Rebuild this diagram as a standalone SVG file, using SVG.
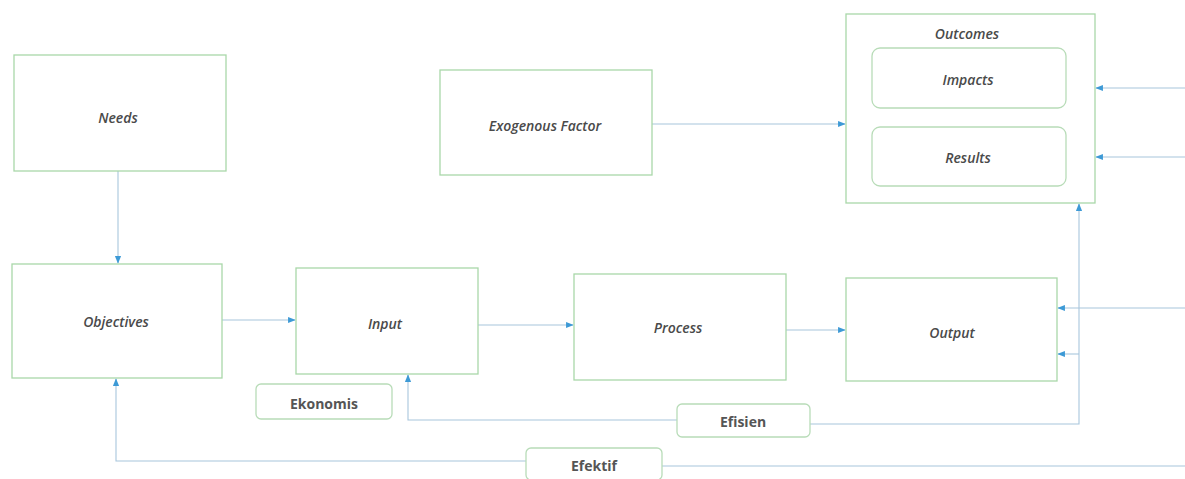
<svg xmlns="http://www.w3.org/2000/svg" width="1185" height="479" viewBox="0 0 1185 479">
<style>
.box{fill:#fff;stroke:#a9d8a9;stroke-width:1.3}
.lbl{fill:#fff;stroke:#b8dcb8;stroke-width:1.3}
.t{font-family:"Open Sans","Noto Sans",sans-serif;font-style:italic;font-weight:600;font-size:14px;fill:#4a4a4a;text-anchor:middle;dominant-baseline:central}
.k{font-family:"Open Sans","Noto Sans",sans-serif;font-weight:700;font-size:14px;fill:#555;text-anchor:middle;dominant-baseline:central}
.c{fill:none;stroke:#a8c6dc;stroke-width:1.1}
</style>
<defs>
<marker id="a" viewBox="0 0 10 10" refX="9" refY="5" markerWidth="7" markerHeight="7" orient="auto"><path d="M0,1 L10,5 L0,9 z" fill="#3d9ad6"/></marker>
</defs>
<rect width="1185" height="479" fill="#fff"/>
<g id="connectors">
<path class="c" d="M118,171 V263" marker-end="url(#a)"/>
<path class="c" d="M222,320 H295" marker-end="url(#a)"/>
<path class="c" d="M478,325 H573" marker-end="url(#a)"/>
<path class="c" d="M786,330 H845" marker-end="url(#a)"/>
<path class="c" d="M652,124 H845" marker-end="url(#a)"/>
<path class="c" d="M969,127 V109" marker-end="url(#a)"/>
<path class="c" d="M1185,88 H1096" marker-end="url(#a)"/>
<path class="c" d="M1185,157 H1096" marker-end="url(#a)"/>
<path class="c" d="M1185,308 H1058" marker-end="url(#a)"/>
<path class="c" d="M1079,354 H1058" marker-end="url(#a)"/>
<path class="c" d="M810,424 H1079 V204" marker-end="url(#a)"/>
<path class="c" d="M677,420 H408 V375" marker-end="url(#a)"/>
<path class="c" d="M1185,466 H662"/>
<path class="c" d="M526,461 H116 V379" marker-end="url(#a)"/>
</g>
<g id="needs"><rect class="box" x="14" y="55" width="212" height="116"/><text class="t" x="118" y="117">Needs</text></g>
<g id="exogenous"><rect class="box" x="440" y="70" width="212" height="105"/><text class="t" x="545" y="125">Exogenous Factor</text></g>
<g id="outcomes"><rect class="box" x="846" y="14" width="249" height="189"/><text class="t" x="967" y="33">Outcomes</text>
<g id="impacts"><rect class="lbl" x="872" y="48" width="194" height="60" rx="8"/><text class="t" x="968" y="79">Impacts</text></g>
<g id="results"><rect class="lbl" x="872" y="127" width="194" height="59" rx="8"/><text class="t" x="968" y="157">Results</text></g>
</g>
<g id="objectives"><rect class="box" x="12" y="264" width="210" height="114"/><text class="t" x="116" y="321">Objectives</text></g>
<g id="input"><rect class="box" x="296" y="268" width="182" height="106"/><text class="t" x="385" y="323">Input</text></g>
<g id="process"><rect class="box" x="574" y="274" width="212" height="106"/><text class="t" x="678" y="327">Process</text></g>
<g id="output"><rect class="box" x="846" y="278" width="211" height="103"/><text class="t" x="952" y="332">Output</text></g>
<g id="ekonomis"><rect class="lbl" x="256" y="384" width="136" height="35" rx="5"/><text class="k" x="324" y="403">Ekonomis</text></g>
<g id="efisien"><rect class="lbl" x="677" y="404" width="133" height="33" rx="5"/><text class="k" x="743" y="421">Efisien</text></g>
<g id="efektif"><rect class="lbl" x="526" y="448" width="136" height="32" rx="5"/><text class="k" x="594" y="465">Efektif</text></g>
</svg>
